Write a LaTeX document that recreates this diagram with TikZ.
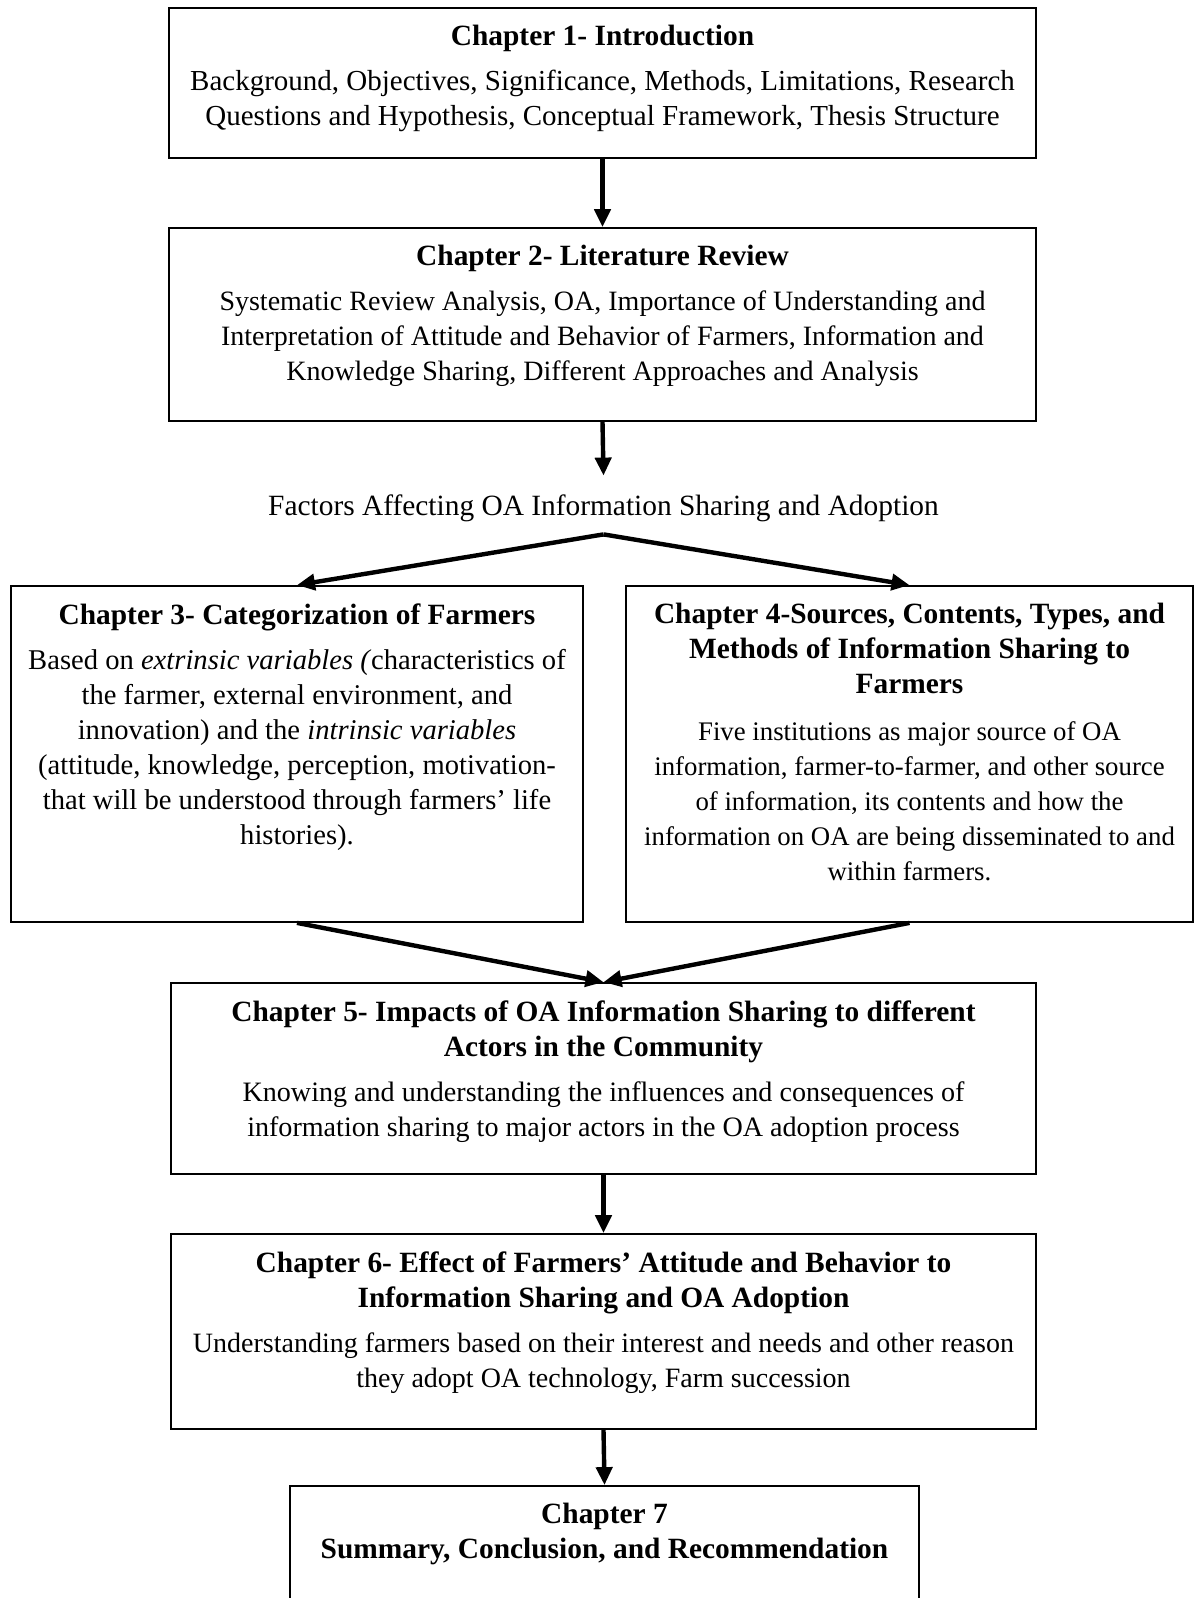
\documentclass[tikz,border=0pt]{standalone}
\usepackage{fontspec}
\setmainfont{Liberation Serif}
\usetikzlibrary{arrows.meta}
% bold heading line inside a chapter box
\newcommand{\chtitle}[1]{{\fontsize{14.7}{17.5}\selectfont\bfseries #1}}
\newcommand{\bodysize}[1]{\fontsize{#1}{17.5}\selectfont}
\begin{document}
\begin{tikzpicture}[x=0.5pt,y=-0.5pt,
  chapbox/.style={draw, line width=0.9pt, rectangle, inner sep=0pt},
  chaptext/.style={anchor=north, align=center, inner sep=0pt},
  flow/.style={line width=2.2pt, -{Triangle[length=9pt,width=8pt]}},
]
\clip (0,0) rectangle (1195,1598);
\fill[white] (0,0) rectangle (1195,1598);

% Chapter boxes
\node[chapbox, minimum width=433.5pt, minimum height=75pt]   (b1) at (602.5,83) {};
\node[chapbox, minimum width=433.5pt, minimum height=96.5pt] (b2) at (602.5,324.5) {};
\node[chapbox, minimum width=286pt,   minimum height=168pt]  (b3) at (297,754) {};
\node[chapbox, minimum width=283.5pt, minimum height=168pt]  (b4) at (909.5,754) {};
\node[chapbox, minimum width=432.5pt, minimum height=95.5pt] (b5) at (603.5,1078.5) {};
\node[chapbox, minimum width=432.5pt, minimum height=97.5pt] (b6) at (603.5,1331.5) {};
\node[chapbox, minimum width=314.5pt, minimum height=82pt]   (b7) at (604.5,1568) {};

% Box contents
\node[chaptext, font=\bodysize{14.5}] (t1) at ([yshift=-9pt]b1.north)
  {\chtitle{Chapter 1- Introduction}\\[5pt]
   Background, Objectives, Significance, Methods, Limitations, Research\\
   Questions and Hypothesis, Conceptual Framework, Thesis Structure};
\node[chaptext, font=\bodysize{14.0}] (t2) at ([yshift=-9pt]b2.north)
  {\chtitle{Chapter 2- Literature Review}\\[5pt]
   Systematic Review Analysis, OA, Importance of Understanding and\\
   Interpretation of Attitude and Behavior of Farmers, Information and\\
   Knowledge Sharing, Different Approaches and Analysis};
\node[chaptext, font=\bodysize{14.3}] (t3) at ([yshift=-9pt]b3.north)
  {\chtitle{Chapter 3- Categorization of Farmers}\\[5pt]
   Based on \textit{extrinsic variables (}characteristics of\\
   the farmer, external environment, and\\
   innovation) and the \textit{intrinsic variables}\\
   (attitude, knowledge, perception, motivation-\\
   that will be understood through farmers’ life\\
   histories).};
\node[chaptext, font=\bodysize{13.4}] (t4) at ([yshift=-9pt]b4.north)
  {\chtitle{Chapter 4-Sources, Contents, Types, and}\\
   \chtitle{Methods of Information Sharing to}\\
   \chtitle{Farmers}\\[6pt]
   Five institutions as major source of OA\\
   information, farmer-to-farmer, and other source\\
   of information, its contents and how the\\
   information on OA are being disseminated to and\\
   within farmers.};
\node[chaptext, font=\bodysize{14.05}] (t5) at ([yshift=-9pt]b5.north)
  {\chtitle{Chapter 5- Impacts of OA Information Sharing to different}\\
   \chtitle{Actors in the Community}\\[5pt]
   Knowing and understanding the influences and consequences of\\
   information sharing to major actors in the OA adoption process};
\node[chaptext, font=\bodysize{14.0}] (t6) at ([yshift=-9pt]b6.north)
  {\chtitle{Chapter 6- Effect of Farmers’ Attitude and Behavior to}\\
   \chtitle{Information Sharing and OA Adoption}\\[5pt]
   Understanding farmers based on their interest and needs and other reason\\
   they adopt OA technology, Farm succession};
\node[chaptext, font=\bodysize{14.0}] (t7) at ([yshift=-9pt]b7.north)
  {\chtitle{Chapter 7}\\
   \chtitle{Summary, Conclusion, and Recommendation}};

% Branch label between chapters 2 and 3/4
\node[inner sep=0pt, minimum height=29pt, text height=14pt, text depth=3pt,
      font=\bodysize{14.7}]
  (fac) at (603.5,505) {Factors Affecting OA Information Sharing and Adoption};

% Connectors
\draw[flow] (b1.south) -- (b2.north);
\draw[flow] (b2.south) -- (fac.north);
\draw[flow] (fac.south) -- (b3.north);
\draw[flow] (fac.south) -- (b4.north);
\draw[flow] (b3.south) -- (b5.north);
\draw[flow] (b4.south) -- (b5.north);
\draw[flow] (b5.south) -- (b6.north);
\draw[flow] (b6.south) -- (b7.north);
\end{tikzpicture}
\end{document}
